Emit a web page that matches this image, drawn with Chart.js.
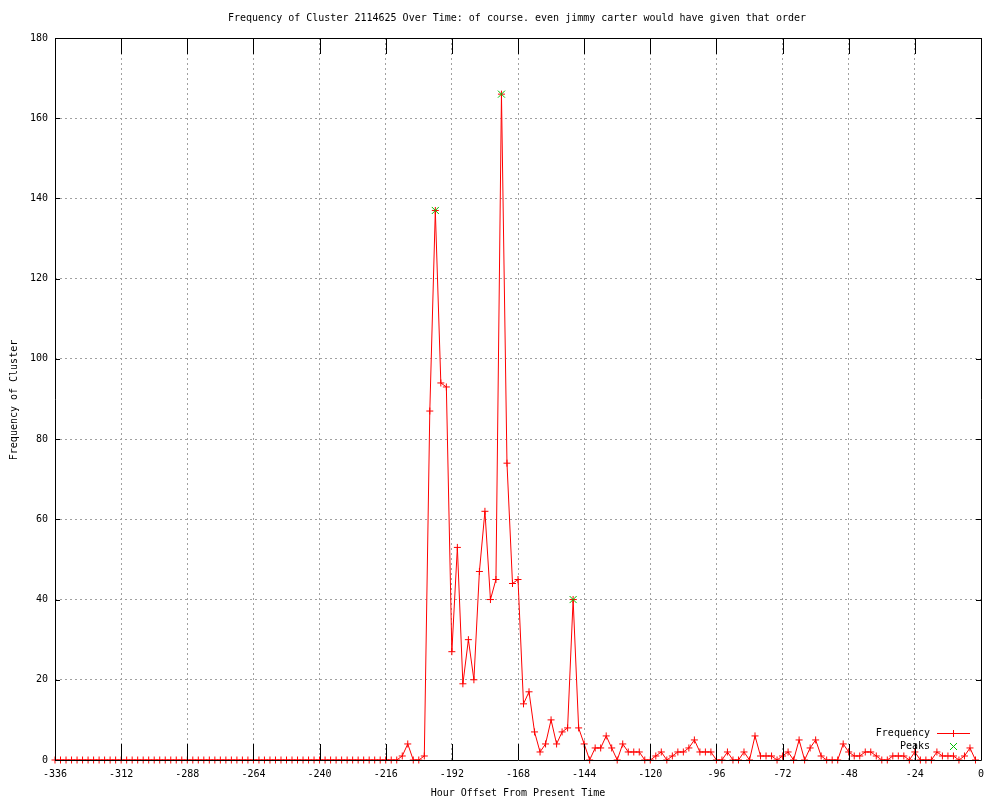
<!DOCTYPE html>
<html><head><meta charset="utf-8">
<script src="https://cdn.jsdelivr.net/npm/chart.js@4/dist/chart.umd.min.js"></script>
<style>html,body{margin:0;padding:0;background:#fff}canvas{display:block}</style>
</head><body>
<canvas id="c" width="1000" height="800"></canvas>
<script>
const titleText = "Frequency of Cluster 2114625 Over Time: of course. even jimmy carter would have given that order";
const xAxisLabel = "Hour Offset From Present Time";
const yAxisLabel = "Frequency of Cluster";
const seriesLabels = ["Frequency", "Peaks"];

const hours = [
  -336,-334,-332,-330,-328,-326,-324,-322,-320,-318,-316,-314,
  -312,-310,-308,-306,-304,-302,-300,-298,-296,-294,-292,-290,
  -288,-286,-284,-282,-280,-278,-276,-274,-272,-270,-268,-266,
  -264,-262,-260,-258,-256,-254,-252,-250,-248,-246,-244,-242,
  -240,-238,-236,-234,-232,-230,-228,-226,-224,-222,-220,-218,
  -216,-214,-212,-210,-208,-206,-204,-202,-200,-198,-196,-194,
  -192,-190,-188,-186,-184,-182,-180,-178,-176,-174,-172,-170,
  -168,-166,-164,-162,-160,-158,-156,-154,-152,-150,-148,-146,
  -144,-142,-140,-138,-136,-134,-132,-130,-128,-126,-124,-122,
  -120,-118,-116,-114,-112,-110,-108,-106,-104,-102,-100,-98,
  -96,-94,-92,-90,-88,-86,-84,-82,-80,-78,-76,-74,
  -72,-70,-68,-66,-64,-62,-60,-58,-56,-54,-52,-50,
  -48,-46,-44,-42,-40,-38,-36,-34,-32,-30,-28,-26,
  -24,-22,-20,-18,-16,-14,-12,-10,-8,-6,-4,-2
];
const frequency = [
  0,0,0,0,0,0,0,0,0,0,0,0,
  0,0,0,0,0,0,0,0,0,0,0,0,
  0,0,0,0,0,0,0,0,0,0,0,0,
  0,0,0,0,0,0,0,0,0,0,0,0,
  0,0,0,0,0,0,0,0,0,0,0,0,
  0,0,0,1,4,0,0,1,87,137,94,93,
  27,53,19,30,20,47,62,40,45,166,74,44,
  45,14,17,7,2,4,10,4,7,8,40,8,
  4,0,3,3,6,3,0,4,2,2,2,0,
  0,1,2,0,1,2,2,3,5,2,2,2,
  0,0,2,0,0,2,0,6,1,1,1,0,
  1,2,0,5,0,3,5,1,0,0,0,4,
  2,1,1,2,2,1,0,0,1,1,1,0,
  2,0,0,0,2,1,1,1,0,1,3,0
];
const peakHours = [-198, -174, -148];
const peakValues = [137, 166, 40];

const xTicks = [-336,-312,-288,-264,-240,-216,-192,-168,-144,-120,-96,-72,-48,-24,0];
const yTicks = [0,20,40,60,80,100,120,140,160,180];

const FONT = "10px 'DejaVu Sans Mono'";
const RED = '#ff0000';
const GREEN = '#00c000';

const gnuplotDecor = {
  id: 'gnuplotDecor',
  afterDatasetsDraw(chart) {
    const ctx = chart.ctx;
    const a = chart.chartArea;
    const xs = chart.scales.x, ys = chart.scales.y;
    ctx.save();
    ctx.strokeStyle = '#000';
    ctx.lineWidth = 1;
    ctx.setLineDash([]);
    // frame
    ctx.beginPath();
    ctx.rect(a.left + 0.5, a.top + 0.5, a.right - a.left, a.bottom - a.top);
    ctx.stroke();
    // inward ticks
    ctx.beginPath();
    xTicks.forEach(v => {
      const px = Math.round(xs.getPixelForValue(v)) + 0.5;
      ctx.moveTo(px, a.bottom); ctx.lineTo(px, a.bottom - 16);
      ctx.moveTo(px, a.top); ctx.lineTo(px, a.top + 16);
    });
    yTicks.forEach(v => {
      const py = Math.round(ys.getPixelForValue(v)) + 0.5;
      ctx.moveTo(a.left, py); ctx.lineTo(a.left + 5, py);
      ctx.moveTo(a.right, py); ctx.lineTo(a.right - 5, py);
    });
    ctx.stroke();

    // texts
    ctx.fillStyle = '#000';
    ctx.font = FONT;
    ctx.textBaseline = 'middle';
    ctx.textAlign = 'center';
    ctx.fillText(titleText, 517, 18);
    ctx.fillText(xAxisLabel, 518, 793);
    ctx.save();
    ctx.translate(14, 400);
    ctx.rotate(-Math.PI / 2);
    ctx.fillText(yAxisLabel, 0, 0);
    ctx.restore();

    // legend
    ctx.textAlign = 'right';
    ctx.fillText(seriesLabels[0], 930, 733);
    ctx.fillText(seriesLabels[1], 930, 746);
    ctx.strokeStyle = RED;
    ctx.beginPath();
    ctx.moveTo(937, 733.5); ctx.lineTo(970, 733.5);
    ctx.moveTo(953.5, 730); ctx.lineTo(953.5, 737);
    ctx.stroke();
    ctx.strokeStyle = GREEN;
    ctx.beginPath();
    ctx.moveTo(950, 743); ctx.lineTo(957, 750);
    ctx.moveTo(957, 743); ctx.lineTo(950, 750);
    ctx.stroke();
    ctx.restore();
  }
};

new Chart(document.getElementById('c').getContext('2d'), {
  type: 'line',
  data: {
    datasets: [
      {
        label: seriesLabels[1],
        data: peakHours.map((h, i) => ({ x: h, y: peakValues[i] })),
        showLine: false,
        pointStyle: 'crossRot',
        pointRadius: 5,
        pointBorderColor: GREEN,
        pointBackgroundColor: GREEN,
        pointBorderWidth: 1,
        clip: 10
      },
      {
        label: seriesLabels[0],
        data: hours.map((h, i) => ({ x: h, y: frequency[i] })),
        borderColor: RED,
        borderWidth: 1,
        tension: 0,
        fill: false,
        pointStyle: 'cross',
        pointRadius: 3.5,
        pointBorderColor: RED,
        pointBackgroundColor: RED,
        pointBorderWidth: 1,
        clip: 10
      }
    ]
  },
  options: {
    responsive: false,
    animation: false,
    devicePixelRatio: 1,
    events: [],
    layout: { padding: { left: 0, right: 19, top: 38, bottom: 0 } },
    plugins: { legend: { display: false }, tooltip: { enabled: false }, title: { display: false } },
    scales: {
      x: {
        type: 'linear', min: -336, max: 0,
        afterFit(s) { s.height = 40; },
        afterBuildTicks(s) { s.ticks = xTicks.map(v => ({ value: v })); },
        grid: { color: '#a0a0a0', lineWidth: 1, drawTicks: false },
        border: { display: false, dash: [2, 3] },
        ticks: { padding: 8, color: '#000', font: { family: 'DejaVu Sans Mono', size: 10 }, maxRotation: 0, autoSkip: false, callback: v => String(v) }
      },
      y: {
        type: 'linear', min: 0, max: 180,
        afterFit(s) { s.width = 55; },
        afterBuildTicks(s) { s.ticks = yTicks.map(v => ({ value: v })); },
        grid: { color: '#a0a0a0', lineWidth: 1, drawTicks: false },
        border: { display: false, dash: [2, 3] },
        ticks: { padding: 7, color: '#000', font: { family: 'DejaVu Sans Mono', size: 10 }, autoSkip: false, callback: v => String(v) }
      }
    }
  },
  plugins: [gnuplotDecor]
});
</script>
</body></html>
